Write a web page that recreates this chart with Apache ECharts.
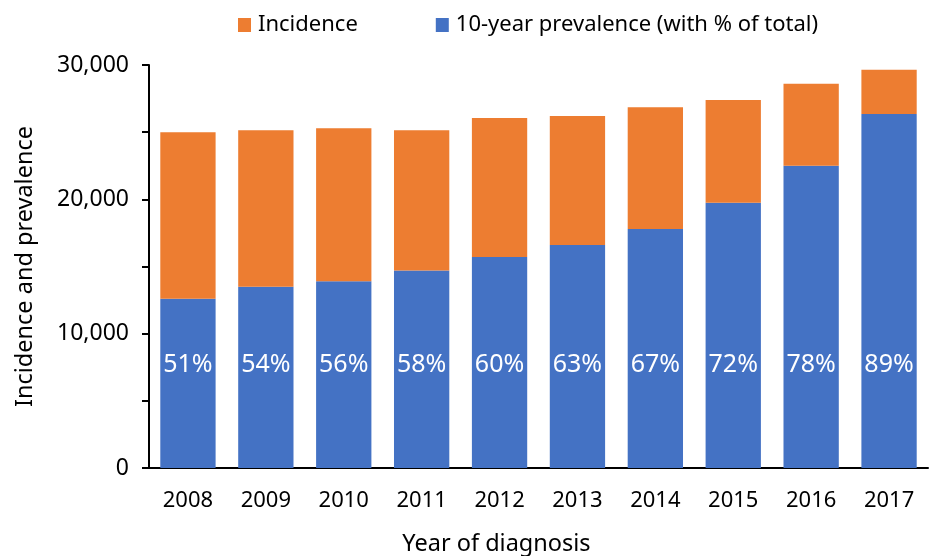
<!DOCTYPE html>
<html>
<head>
<meta charset="utf-8">
<script src="https://cdn.jsdelivr.net/npm/echarts@6/dist/echarts.min.js"></script>
<style>
	html, body { margin: 0; padding: 0; background: #fff; }
	#main { width: 933px; height: 556px; }
</style>
</head>
<body>
<div id="main"></div>
<script>
// 年份、各系列数值
var years = ['2008', '2009', '2010', '2011', '2012', '2013', '2014', '2015', '2016', '2017'];
var prevalence = [12600, 13500, 13900, 14700, 15700, 16600, 17800, 19750, 22500, 26350];
var incidence = [12400, 11650, 11400, 10450, 10350, 9600, 9050, 7650, 6100, 3300];
var shareLabels = ['51%', '54%', '56%', '58%', '60%', '63%', '67%', '72%', '78%', '89%'];

var font = 'Noto Sans';

function showBar() {
	var myChart = echarts.init(document.getElementById('main'));
	var option = {
		textStyle: { fontFamily: font },
		animation: false,
		legend: {
			data: ['Incidence', '10-year prevalence (with % of total)'],
			left: 233,
			top: 9,
			itemWidth: 13,
			itemHeight: 14,
			itemGap: 78,
			icon: 'rect',
			textStyle: {
				fontFamily: font,
				fontSize: 22,
				color: '#000',
				padding: [0, 0, 0, 2]
			}
		},
		grid: {
			left: 149,
			right: 5,
			top: 65,
			bottom: 88,
			outerBoundsMode: 'none'
		},
		xAxis: {
			type: 'category',
			data: years,
			name: 'Year of diagnosis',
			nameLocation: 'middle',
			nameGap: 64,
			nameTextStyle: {
				fontSize: 23.5,
				color: '#000',
				padding: [0, 84, 0, 0]
			},
			axisLine: { lineStyle: { color: '#000', width: 2 } },
			axisTick: { show: false },
			axisLabel: {
				fontSize: 22,
				color: '#000',
				margin: 22
			}
		},
		yAxis: {
			type: 'value',
			min: 0,
			max: 30000,
			interval: 5000,
			name: 'Incidence and prevalence',
			nameLocation: 'middle',
			nameGap: 112,
			nameTextStyle: {
				fontSize: 23.5,
				color: '#000'
			},
			splitLine: { show: false },
			axisLine: { show: true, lineStyle: { color: '#000', width: 2 } },
			axisTick: { show: true, length: 7, lineStyle: { color: '#000', width: 2 } },
			axisLabel: {
				fontSize: 23,
				color: '#000',
				margin: 20,
				formatter: function (v) {
					if (v % 10000 !== 0) return '';
					return v.toLocaleString('en-US');
				}
			}
		},
		series: [{
			name: '10-year prevalence (with % of total)',
			type: 'bar',
			stack: 'total',
			barCategoryGap: '29%',
			color: '#4472C4',
			data: prevalence,
			label: {
				show: true,
				position: 'insideBottom',
				distance: 91,
				color: '#fff',
				fontSize: 25,
				fontFamily: font,
				formatter: function (p) { return shareLabels[p.dataIndex]; }
			}
		}, {
			name: 'Incidence',
			type: 'bar',
			stack: 'total',
			color: '#ED7D31',
			data: incidence
		}]
	};
	myChart.setOption(option);
}
showBar();
</script>
</body>
</html>
